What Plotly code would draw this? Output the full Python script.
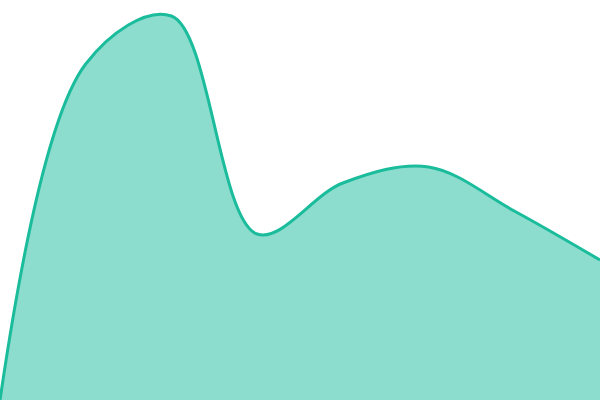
import plotly.graph_objects as go

x_vals = [0, 1, 2, 3, 4, 5, 6, 7]
y_vals = [0, 336, 384, 166, 217, 233, 189, 140]

fig = go.Figure()
fig.add_trace(go.Scatter(
    x=x_vals, y=y_vals, mode="lines",
    line=dict(shape="spline", smoothing=1, color="#1abc9c", width=3),
    fill="tozeroy", fillcolor="rgba(26,188,156,0.5)",
    hoverinfo="skip",
))
fig.update_layout(
    width=600, height=400,
    margin=dict(l=0, r=0, t=0, b=0),
    paper_bgcolor="white", plot_bgcolor="white",
    showlegend=False,
    xaxis=dict(range=[0, 7], visible=False, fixedrange=True),
    yaxis=dict(range=[0, 400], visible=False, fixedrange=True),
)
fig.write_html(
    "out.html",
    config={"displayModeBar": False},
    post_script="document.body.style.margin='0';document.body.style.overflow='hidden';",
)
